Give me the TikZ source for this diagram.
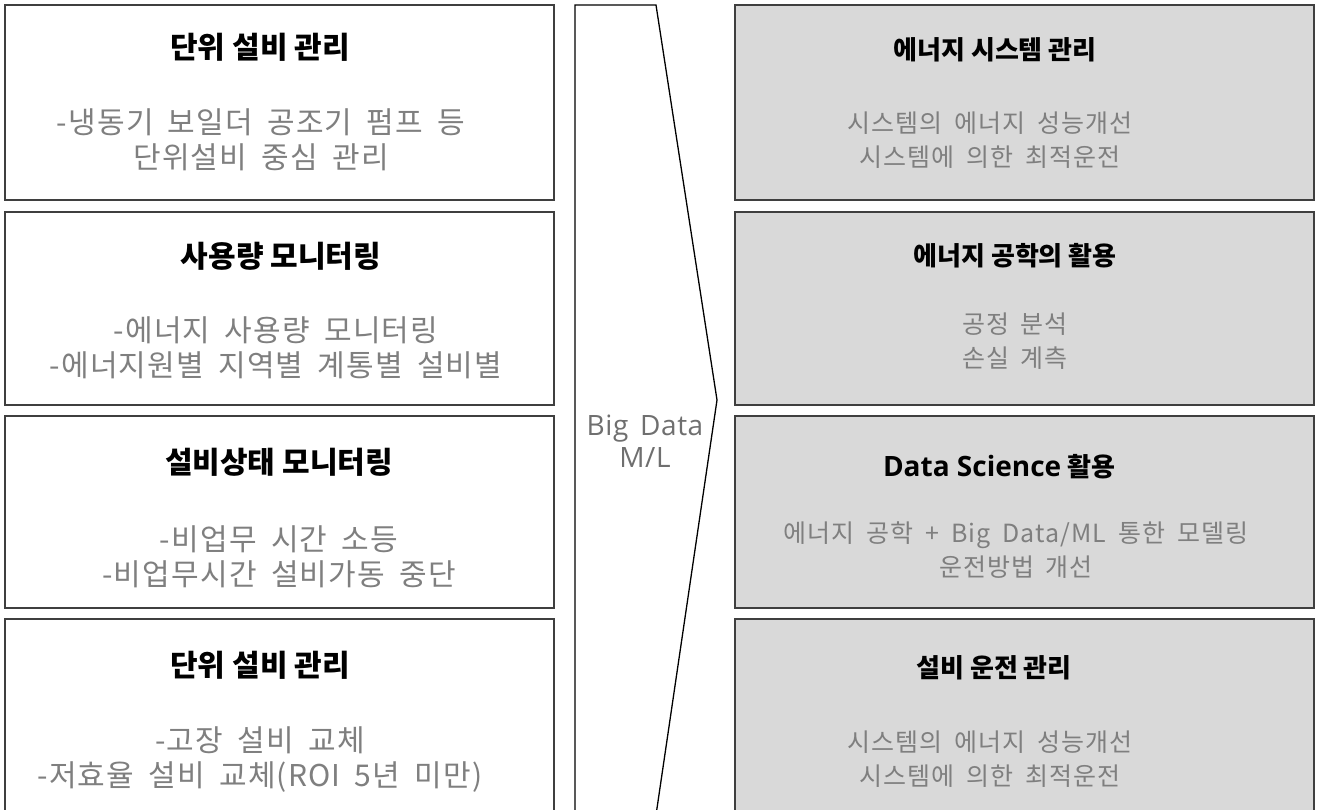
\documentclass[tikz,border=0pt]{standalone}
\usepackage{fontspec}
\setmainfont{Noto Sans CJK KR}
\newfontfamily\lbodyf{Noto Sans CJK KR}[LetterSpace=4,WordSpace=2]
\newfontfamily\rbodyf{Noto Sans CJK KR}[LetterSpace=4,WordSpace=1.8]
\newfontfamily\ltitlef{Noto Sans CJK KR}[WordSpace=1.1]
\newfontfamily\rtitlef{Noto Sans CJK KR}[WordSpace=1.0]
\newfontfamily\latinf{Open Sans}
\newfontfamily\chevf{Open Sans}[LetterSpace=2,WordSpace=1.5]
\begin{document}
\begin{tikzpicture}[x=1pt,y=-1pt,
  lbox/.style={draw=boxline, line width=1.6pt, fill=white, minimum width=549pt, inner sep=0pt},
  rbox/.style={draw=boxline, line width=1.6pt, fill=rfill, minimum width=579pt, inner sep=0pt},
  ltitle/.style={font=\ltitlef\fontsize{30}{32}\selectfont\bfseries, text=black, inner sep=0pt},
  lbody/.style={font=\lbodyf\fontsize{30}{35}\selectfont, text=bodygray, align=center, inner sep=0pt},
  rtitle/.style={font=\rtitlef\fontsize{26}{29}\selectfont\bfseries, text=black, inner sep=0pt},
  rbody/.style={font=\rbodyf\fontsize{25}{34}\selectfont, text=bodygray, align=center, inner sep=0pt},
  chev/.style={draw=black, line width=1.3pt, fill=white},
  chevtext/.style={font=\chevf\fontsize{28}{32}\selectfont, text=chevgray, align=center, inner sep=0pt}
]
\definecolor{boxline}{HTML}{3F3F3F}
\definecolor{rfill}{HTML}{D9D9D9}
\definecolor{bodygray}{HTML}{7F7F7F}
\definecolor{chevgray}{HTML}{6F6F6F}
\useasboundingbox (0,0) rectangle (1319,809);

% left column
\node[lbox, minimum height=195pt] (L1) at (279.5,102.5) {};
\node[lbox, minimum height=193pt] (L2) at (279.5,308.5) {};
\node[lbox, minimum height=192pt] (L3) at (279.5,512) {};
\node[lbox, minimum height=200pt] (L4) at (279.5,719) {};

\node[ltitle] (L1t) at (260,47) {단위 설비 관리};
\node[lbody] (L1b) at (261,140) {-냉동기 보일더 공조기 펌프 등\\단위설비 중심 관리};
\node[ltitle] (L2t) at (281,256) {사용량 모니터링};
\node[lbody] (L2b) at (276,348) {-에너지 사용량 모니터링\\-에너지원별 지역별 계통별 설비별};
\node[ltitle] (L3t) at (279,462) {설비상태 모니터링};
\node[lbody] (L3b) at (279,557) {-비업무 시간 소등\\-비업무시간 설비가동 중단};
\node[ltitle] (L4t) at (260,665) {단위 설비 관리};
\node[lbody] (L4b) at (260,760) {-고장 설비 교체\\-저효율 설비 교체(ROI 5년 미만)};

% chevron
\draw[chev] (575,5) -- (656,5) -- (717,400) -- (656,815) -- (575,815) -- cycle;
\node[chevtext] (C) at (645,441) {Big Data\\M/L};

% right column
\node[rbox, minimum height=195pt] (R1) at (1024.5,102.5) {};
\node[rbox, minimum height=193pt] (R2) at (1024.5,308.5) {};
\node[rbox, minimum height=192pt] (R3) at (1024.5,512) {};
\node[rbox, minimum height=200pt] (R4) at (1024.5,719) {};

\node[rtitle] (R1t) at (995,50) {에너지 시스템 관리};
\node[rbody] (R1b) at (990,140) {시스템의 에너지 성능개선\\시스템에 의한 최적운전};
\node[rtitle] (R2t) at (1015,256) {에너지 공학의 활용};
\node[rbody] (R2b) at (1015,341) {공정 분석\\손실 계측};
\node[rtitle] (R3t) at (999,467) {{\latinf\fontsize{28}{29}\selectfont\bfseries Data Science} 활용};
\node[rbody] (R3b) at (1016,550) {에너지 공학 + Big Data/ML 통한 모델링\\운전방법 개선};
\node[rtitle] (R4t) at (994,668) {설비 운전 관리};
\node[rbody] (R4b) at (990,759) {시스템의 에너지 성능개선\\시스템에 의한 최적운전};
\end{tikzpicture}
\end{document}
